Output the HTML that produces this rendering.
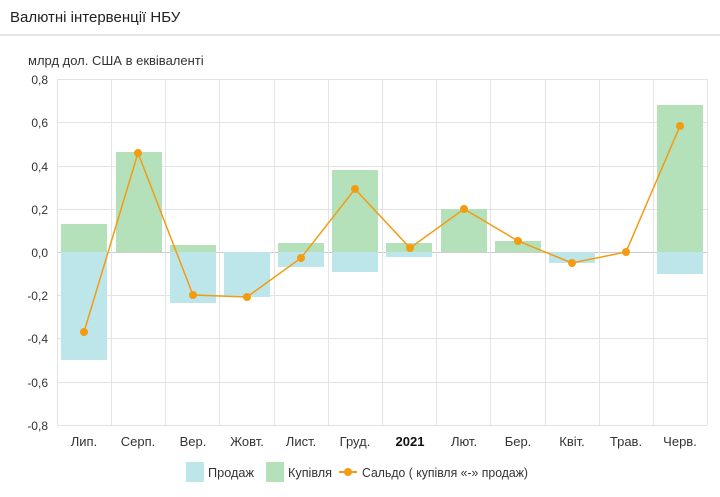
<!DOCTYPE html><html><head><meta charset="utf-8"><style>body{margin:0;background:#fff;font-family:"Liberation Sans",sans-serif}</style></head><body>
<svg width="720" height="492" xmlns="http://www.w3.org/2000/svg" font-family="Liberation Sans, sans-serif">
<text x="10" y="22" font-size="15" fill="#222">Валютні інтервенції НБУ</text>
<rect x="0" y="34" width="720" height="2" fill="#e6e6e6"/>
<text x="28" y="65" font-size="13" fill="#333">млрд дол. США в еквіваленті</text>
<g stroke="#e3e3e3" stroke-width="1">
<line x1="57" x2="707" y1="79.5" y2="79.5"/><line x1="57" x2="707" y1="122.5" y2="122.5"/><line x1="57" x2="707" y1="166.5" y2="166.5"/><line x1="57" x2="707" y1="209.5" y2="209.5"/><line x1="57" x2="707" y1="252.5" y2="252.5" stroke="#ccc"/><line x1="57" x2="707" y1="295.5" y2="295.5"/><line x1="57" x2="707" y1="338.5" y2="338.5"/><line x1="57" x2="707" y1="382.5" y2="382.5"/><line x1="57" x2="707" y1="425.5" y2="425.5"/>
<line x1="57.5" x2="57.5" y1="79" y2="425"/><line x1="111.5" x2="111.5" y1="79" y2="425"/><line x1="165.5" x2="165.5" y1="79" y2="425"/><line x1="219.5" x2="219.5" y1="79" y2="425"/><line x1="274.5" x2="274.5" y1="79" y2="425"/><line x1="328.5" x2="328.5" y1="79" y2="425"/><line x1="382.5" x2="382.5" y1="79" y2="425"/><line x1="436.5" x2="436.5" y1="79" y2="425"/><line x1="490.5" x2="490.5" y1="79" y2="425"/><line x1="545.5" x2="545.5" y1="79" y2="425"/><line x1="599.5" x2="599.5" y1="79" y2="425"/><line x1="653.5" x2="653.5" y1="79" y2="425"/><line x1="707.5" x2="707.5" y1="79" y2="425"/>
</g>
<g font-size="12" fill="#333" text-anchor="end">
<text x="48" y="84">0,8</text><text x="48" y="127">0,6</text><text x="48" y="171">0,4</text><text x="48" y="214">0,2</text><text x="48" y="257">0,0</text><text x="48" y="300">-0,2</text><text x="48" y="343">-0,4</text><text x="48" y="387">-0,6</text><text x="48" y="430">-0,8</text>
</g>
<g fill="#bde6ea">
<rect x="61" y="252" width="46" height="108"/><rect x="170" y="252" width="46" height="51"/><rect x="224" y="252" width="46" height="45"/><rect x="278" y="252" width="46" height="15"/><rect x="332" y="252" width="46" height="20"/><rect x="386" y="252" width="46" height="5"/><rect x="549" y="252" width="46" height="11"/><rect x="657" y="252" width="46" height="22"/>
</g>
<g fill="#b4e0ba">
<rect x="61" y="224" width="46" height="28"/><rect x="116" y="152" width="46" height="100"/><rect x="170" y="245" width="46" height="7"/><rect x="278" y="243" width="46" height="9"/><rect x="332" y="170" width="46" height="82"/><rect x="386" y="243" width="46" height="9"/><rect x="441" y="209" width="46" height="43"/><rect x="495" y="241" width="46" height="11"/><rect x="657" y="105" width="46" height="147"/>
</g>
<polyline fill="none" stroke="#f39c12" stroke-width="1.5" points="84,332 138,153 193,295 247,297 301,258 355,189 410,248 464,209 518,241 572,263 626,252 680,126"/>
<g fill="#f39c12">
<circle cx="84" cy="332" r="4"/><circle cx="138" cy="153" r="4"/><circle cx="193" cy="295" r="4"/><circle cx="247" cy="297" r="4"/><circle cx="301" cy="258" r="4"/><circle cx="355" cy="189" r="4"/><circle cx="410" cy="248" r="4"/><circle cx="464" cy="209" r="4"/><circle cx="518" cy="241" r="4"/><circle cx="572" cy="263" r="4"/><circle cx="626" cy="252" r="4"/><circle cx="680" cy="126" r="4"/>
</g>
<g font-size="13" fill="#333" text-anchor="middle">
<text x="84" y="446">Лип.</text><text x="138" y="446">Серп.</text><text x="193" y="446">Вер.</text><text x="247" y="446">Жовт.</text><text x="301" y="446">Лист.</text><text x="355" y="446">Груд.</text><text x="410" y="446" font-weight="bold" fill="#111">2021</text><text x="464" y="446">Лют.</text><text x="518" y="446">Бер.</text><text x="572" y="446">Квіт.</text><text x="626" y="446">Трав.</text><text x="680" y="446">Черв.</text>
</g>
<rect x="186" y="462" width="18" height="20" fill="#bde6ea"/>
<text x="208" y="477" font-size="13" fill="#333" textLength="46" lengthAdjust="spacingAndGlyphs">Продаж</text>
<rect x="266" y="462" width="18" height="20" fill="#b4e0ba"/>
<text x="288" y="477" font-size="13" fill="#333" textLength="44" lengthAdjust="spacingAndGlyphs">Купівля</text>
<line x1="339" x2="357" y1="472" y2="472" stroke="#f39c12" stroke-width="2"/><circle cx="348" cy="472" r="4" fill="#f39c12"/>
<text x="362" y="477" font-size="13" fill="#333" textLength="166" lengthAdjust="spacingAndGlyphs">Сальдо ( купівля «-» продаж)</text>
</svg></body></html>
